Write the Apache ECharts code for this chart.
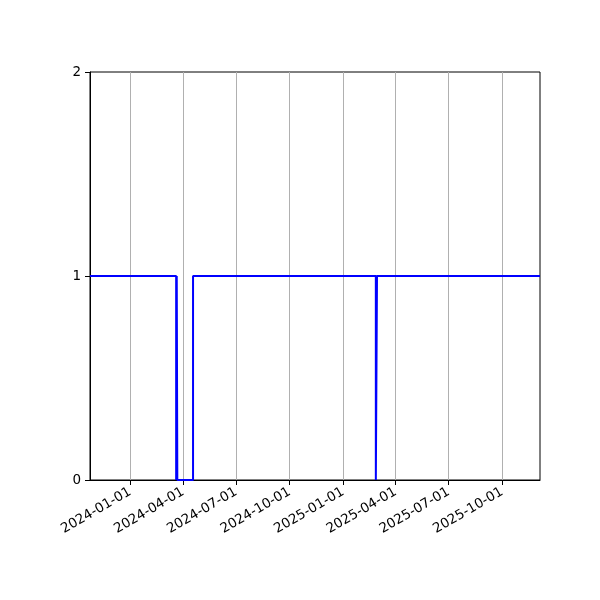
<!DOCTYPE html>
<html>
<head>
<meta charset="utf-8">
<script src="https://cdn.jsdelivr.net/npm/echarts@6/dist/echarts.min.js"></script>
<style>html,body{margin:0;padding:0;background:#fff}#c{width:600px;height:600px}</style>
</head>
<body>
<div id="c"></div>
<script>
const dates = ['2023-10-24','2024-03-20','2024-03-21','2024-03-22','2024-04-18','2025-02-26','2025-02-28','2025-12-05'];
const values = [1,0,1,0,1,0,1,1];
const tickDates = ['2024-01-01','2024-04-01','2024-07-01','2024-10-01','2025-01-01','2025-04-01','2025-07-01','2025-10-01'];
const yTicks = [0,1,2];
const xMin = '2023-10-24';
const xMax = '2025-12-05';

const ts = d => new Date(d + 'T00:00:00Z').getTime();
const tickTs = tickDates.map(ts);
const pad = n => String(n).padStart(2,'0');
const fmt = v => { const d = new Date(v); return d.getUTCFullYear()+'-'+pad(d.getUTCMonth()+1)+'-'+pad(d.getUTCDate()); };

const chart = echarts.init(document.getElementById('c'));
chart.setOption({
  animation: false,
  grid: {left: 90, right: 60, top: 72, bottom: 120, show: true, borderColor: '#000', borderWidth: 1, backgroundColor: 'transparent', containLabel: false},
  xAxis: {
    type: 'value', min: ts(xMin), max: ts(xMax),
    axisLine: {show: true, onZero: false, lineStyle: {color: '#000', width: 1}},
    axisTick: {show: true, customValues: tickTs, length: 5, lineStyle: {color: '#000'}},
    axisLabel: {customValues: tickTs, formatter: v => fmt(v), rotate: 30, color: '#000', fontSize: 13.5, fontFamily: 'DejaVu Sans', margin: 11, showMinLabel: true, showMaxLabel: true},
    splitLine: {show: true, customValues: tickTs, lineStyle: {color: '#b0b0b0', width: 1}}
  },
  yAxis: {
    type: 'value', min: 0, max: 2, interval: 1,
    axisLine: {show: true, lineStyle: {color: '#000', width: 1}},
    axisTick: {show: true, length: 5, lineStyle: {color: '#000'}},
    axisLabel: {color: '#000', fontSize: 13.5, fontFamily: 'DejaVu Sans', margin: 9, formatter: v => yTicks.includes(v) ? String(v) : ''},
    splitLine: {show: false}
  },
  series: [{
    type: 'line', step: 'end', showSymbol: false,
    data: dates.map((d,i) => [ts(d), values[i]]),
    lineStyle: {color: '#0000ff', width: 2},
    itemStyle: {color: '#0000ff'}
  }]
});
</script>
</body>
</html>
